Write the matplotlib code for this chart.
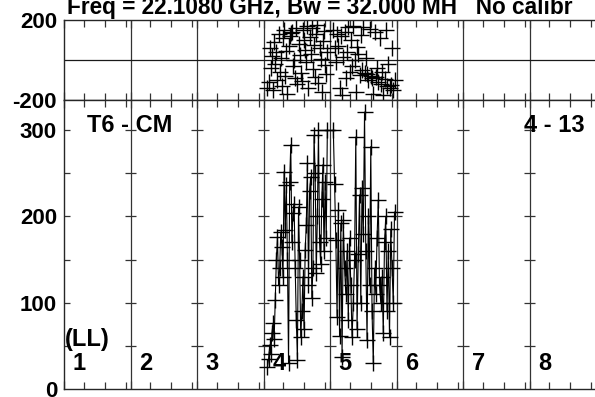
import numpy as np
import matplotlib
matplotlib.use("Agg")
import matplotlib.pyplot as plt

plt.rcParams['font.family'] = ['Liberation Sans', 'DejaVu Sans']
plt.rcParams['font.weight'] = 'bold'

title = "Freq = 22.1080 GHz, Bw = 32.000 MH   No calibr"
channels = ["1", "2", "3", "4", "5", "6", "7", "8"]

# amplitude per channel (only 4 and 5 have data)
amp4 = [26, 35, 51, 40, 65, 76, 58, 103, 150, 176, 120, 140, 182, 165, 130,
        252, 184, 236, 150, 30, 240, 283, 170, 204, 215, 140, 80, 34, 211, 150,
        60, 90, 130, 70, 161, 190, 262, 120, 230, 246, 105, 140, 294, 250, 134,
        200, 300, 170, 145, 220, 260, 160, 240, 175, 300]
amp5 = [300, 238, 173, 84, 207, 61, 192, 37, 196, 140, 110, 160, 80, 175, 120,
        60, 100, 150, 292, 70, 157, 225, 100, 233, 180, 321, 160, 57, 200, 120,
        281, 90, 30, 140, 110, 175, 219, 120, 100, 130, 65, 170, 200, 90, 160,
        60, 185, 140, 100, 205]

# phase per channel
ph4 = [-140, -110, 60, -40, 20, -150, 90, -20, 40, -100, 130, -60, 10, -130, 110,
       150, -80, 45, -170, 70, 120, 135, 140, -30, 0, -90, 160, -120, 80, 25,
       -65, -105, 150, 100, 50, -10, 170, -140, 115, 30, 160, -45, 75, -85, 130,
       175, -115, 60, 5, -160, 95, 145, -25, -70, 40]
ph5 = [150, 60, -10, 130, 70, -140, 120, -175, 15, 140, -90, 40, 165, -60, 100,
       -30, 170, 0, -160, 65, 30, -75, 125, -50, 165, -65, 10, -70, -100, 155,
       -80, -90, -170, 140, -85, -40, -110, 110, -120, -60, -175, -95, 150, -130, -20,
       -140, -125, 60, -150, -100]

x4 = np.linspace(3.06, 3.96, len(amp4))
x5 = np.linspace(4.05, 4.97, len(amp5))

fig = plt.figure(figsize=(5.95, 3.97), dpi=100)
left, width = 64 / 595, 532 / 595
ax_ph = fig.add_axes([left, 1 - 100 / 397, width, 80 / 397])
ax_amp = fig.add_axes([left, 1 - 389 / 397, width, 289 / 397])

minor = [k + f for k in range(8) for f in (0.3, 0.615, 0.93)]

for ax in (ax_ph, ax_amp):
    ax.set_xlim(0, 8)
    for k in range(1, 8):
        ax.axvline(k, color='0.2', lw=0.9)
    ax.set_xticks(range(9))
    ax.set_xticks(minor, minor=True)
    ax.tick_params(axis='x', which='both', direction='in', top=True, bottom=True,
                   labelbottom=False, color='0.2')
    ax.tick_params(axis='x', which='major', length=6, width=0.9)
    ax.tick_params(axis='x', which='minor', length=5, width=0.9)
    for s in ax.spines.values():
        s.set_linewidth(1.0)
        s.set_color('0.15')
    ax.tick_params(axis='y', labelsize=16, length=0, pad=5)

# phase panel
ax_ph.set_ylim(-200, 200)
ax_ph.set_yticks([-200, 200])
ax_ph.set_yticklabels(['-200', '200'])
ax_ph.axhline(0, color='0.1', lw=0.9)
ax_ph.plot(x4, ph4, ls='none', marker='+', ms=11, mew=1.0, color='k')
ax_ph.plot(x5, ph5, ls='none', marker='+', ms=11, mew=1.0, color='k')
ax_ph.text(0.04, 232, title, fontsize=16.3, fontweight='bold', va='baseline',
           clip_on=False)

# amplitude panel
ax_amp.set_ylim(0, 335)
ax_amp.set_yticks([0, 100, 200, 300])
for k in range(1, 8):
    ax_amp.hlines(np.arange(50, 301, 50), k - 0.09, k + 0.09, color='0.2', lw=0.9)
ax_amp.hlines(np.arange(50, 301, 50), 0, 0.09, color='0.2', lw=0.9)
ax_amp.plot(x4, amp4, marker='+', ms=11, mew=1.0, lw=0.8, color='k')
ax_amp.plot(x5, amp5, marker='+', ms=11, mew=1.0, lw=0.8, color='k')

for k, lab in enumerate(channels):
    ax_amp.text(k + 0.13, 30, lab, fontsize=17, fontweight='bold', va='center')
ax_amp.text(0.02, 57, "(LL)", fontsize=17, fontweight='bold', va='center')
ax_amp.text(0.35, 305, "T6 - CM", fontsize=17, fontweight='bold', va='center')
ax_amp.text(6.92, 305, "4 - 13", fontsize=17, fontweight='bold', va='center')

fig.savefig("out.png", dpi=100)
